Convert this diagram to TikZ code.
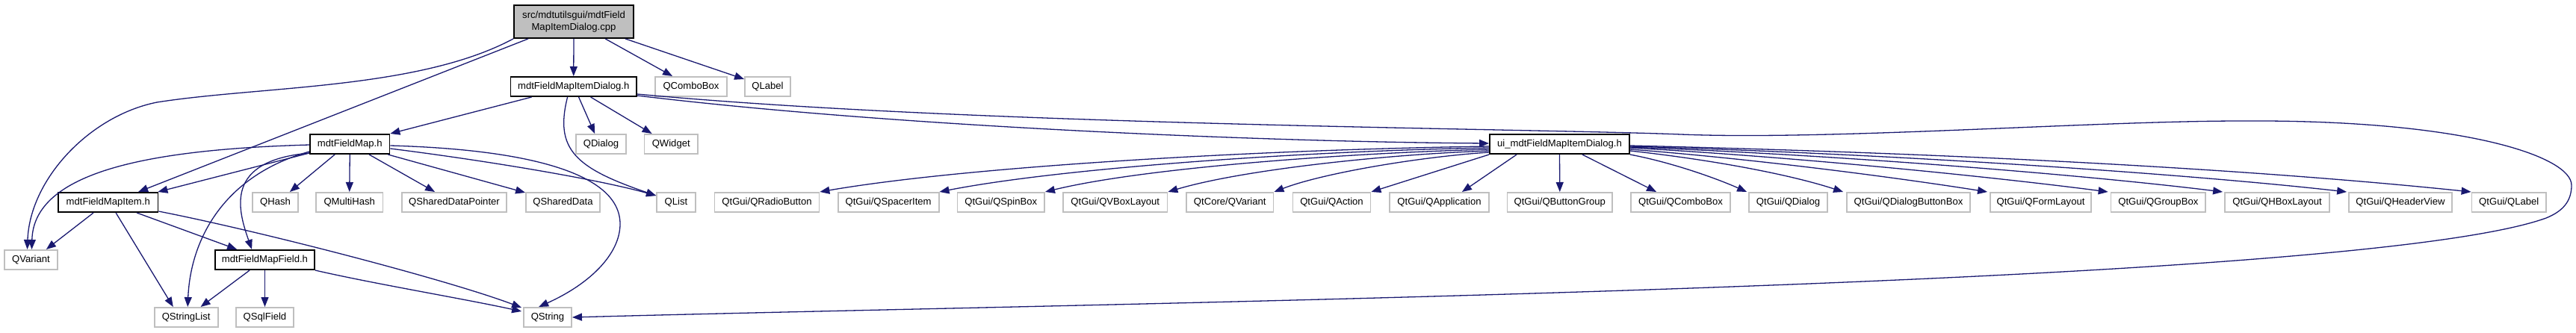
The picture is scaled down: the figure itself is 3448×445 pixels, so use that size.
\documentclass[tikz,border=0pt]{standalone}
\usepackage{fontspec}
\setmainfont{Liberation Sans}
\usetikzlibrary{arrows.meta}
\definecolor{edgecol}{HTML}{191970}
\definecolor{grey75}{HTML}{BFBFBF}
\begin{document}
\begin{tikzpicture}[x=1pt,y=-1pt,
  every node/.style={font=\fontsize{13.1}{16}\selectfont, inner sep=0pt, minimum height=26.2pt},
  proj/.style={rectangle, draw=black, line width=1.8pt, fill=white},
  ext/.style={rectangle, draw=grey75, line width=1.8pt, fill=white},
  rootbox/.style={rectangle, draw=black, line width=1.8pt, fill=grey75, align=center},
  e/.style={draw=edgecol, line width=1.3pt, -{Triangle[length=13pt,width=10pt]}}]
\useasboundingbox (0,0) rectangle (3448,445);
% row 0
\node[rootbox, minimum width=160pt, minimum height=44pt] (root) at (768,29) {src/mdtutilsgui/mdtField\\MapItemDialog.cpp};
% row 1
\node[proj, minimum width=168.5pt] (dlgh) at (767.75,116) {mdtFieldMapItemDialog.h};
\node[ext, minimum width=96pt] (qcombo) at (925,116) {QComboBox};
\node[ext, minimum width=61pt] (qlabel) at (1027.5,116) {QLabel};
% row 2
\node[proj, minimum width=106.5pt] (fmap) at (468.25,193) {mdtFieldMap.h};
\node[ext, minimum width=67pt] (qdialog) at (804.5,193) {QDialog};
\node[ext, minimum width=71.5pt] (qwidget) at (898.25,193) {QWidget};
\node[proj, minimum width=187pt] (ui) at (2087.5,193) {ui\_mdtFieldMapItemDialog.h};
% row 3
\node[proj, minimum width=133.5pt] (fitem) at (144.75,271) {mdtFieldMapItem.h};
\node[ext, minimum width=61pt] (qhash) at (368.5,271) {QHash};
\node[ext, minimum width=89.5pt] (qmhash) at (467.75,271) {QMultiHash};
\node[ext, minimum width=140pt] (qsdp) at (608,271) {QSharedDataPointer};
\node[ext, minimum width=99pt] (qsd) at (753.5,271) {QSharedData};
\node[ext, minimum width=52pt] (qlist) at (905,271) {QList};
\node[ext, minimum width=140pt] (qradio) at (1026.5,271) {QtGui/QRadioButton};
\node[ext, minimum width=135pt] (qspacer) at (1189.1,271) {QtGui/QSpacerItem};
\node[ext, minimum width=116.5pt] (qspin) at (1339.8,271) {QtGui/QSpinBox};
\node[ext, minimum width=139.5pt] (qvbox) at (1492.75,271) {QtGui/QVBoxLayout};
\node[ext, minimum width=116.5pt] (qcvar) at (1646.25,271) {QtCore/QVariant};
\node[ext, minimum width=104pt] (qaction) at (1782.5,271) {QtGui/QAction};
\node[ext, minimum width=133pt] (qapp) at (1926.5,271) {QtGui/QApplication};
\node[ext, minimum width=140.5pt] (qbgroup) at (2087.8,271) {QtGui/QButtonGroup};
\node[ext, minimum width=133pt] (qgcombo) at (2249.5,271) {QtGui/QComboBox};
\node[ext, minimum width=105pt] (qgdialog) at (2393.5,271) {QtGui/QDialog};
\node[ext, minimum width=165pt] (qgdbb) at (2554.5,271) {QtGui/QDialogButtonBox};
\node[ext, minimum width=135pt] (qgform) at (2731.5,271) {QtGui/QFormLayout};
\node[ext, minimum width=126.5pt] (qggroup) at (2888.8,271) {QtGui/QGroupBox};
\node[ext, minimum width=140pt] (qghbox) at (3048,271) {QtGui/QHBoxLayout};
\node[ext, minimum width=138pt] (qgheader) at (3213,271) {QtGui/QHeaderView};
\node[ext, minimum width=99.5pt] (qglabel) at (3358.25,271) {QtGui/QLabel};
% row 4
\node[ext, minimum width=71pt] (qvar) at (41.5,348) {QVariant};
\node[proj, minimum width=133pt] (ffield) at (354.5,348) {mdtFieldMapField.h};
% row 5
\node[ext, minimum width=85pt] (qsl) at (249.2,425) {QStringList};
\node[ext, minimum width=77pt] (qsqlf) at (354.5,425) {QSqlField};
\node[ext, minimum width=64pt] (qstring) at (733,425) {QString};
% edges from root
\draw[e] (root.south west) .. controls (560,120) and (350,115) .. (210,137) .. controls (120,155) and (40,240) .. ([xshift=-5pt]qvar.north);
\draw[e] ([xshift=20pt]root.south west) -- ([xshift=108pt]fitem.north west);
\draw[e] (root.south) -- (dlgh.north);
\draw[e] ([xshift=123pt]root.south west) -- ([xshift=24pt]qcombo.north west);
\draw[e] ([xshift=-12pt]root.south east) -- ([yshift=-4pt]qlabel.north west);
% edges from mdtFieldMapItemDialog.h
\draw[e] ([xshift=29pt]dlgh.south west) -- (fmap.north east);
\draw[e] ([xshift=77pt]dlgh.south west) .. controls (742,200) and (770,225) .. ([yshift=-5pt]qlist.north west);
\draw[e] ([xshift=92pt]dlgh.south west) -- ([xshift=26pt]qdialog.north west);
\draw[e] ([xshift=108pt]dlgh.south west) -- ([xshift=11pt]qwidget.north west);
\draw[e] ([yshift=-12pt]dlgh.east) .. controls (1200,170) and (1700,190) .. ([yshift=1pt]ui.west);
\draw[e] ([yshift=-10pt]dlgh.east) .. controls (1300,168) and (2050,172) .. (2250,180) .. controls (2450,188) and (2800,162) .. (3000,162) .. controls (3300,160) and (3442,210) .. (3442,248) .. controls (3442,270) and (3430,283) .. (3408,292) .. controls (3150,385) and (1500,405) .. (qstring.east);
% edges from mdtFieldMap.h
\draw[e] ([yshift=-1pt]fmap.west) .. controls (200,200) and (45,230) .. ([xshift=1pt]qvar.north);
\draw[e] ([yshift=2pt]fmap.south west) -- ([xshift=-1pt]fitem.north east);
\draw[e] ([yshift=4pt]fmap.south west) .. controls (300,235) and (255,320) .. ([xshift=2pt]qsl.north);
\draw[e] ([yshift=2pt]fmap.south west) .. controls (300,215) and (318,280) .. ([xshift=50pt]ffield.north west);
\draw[e] ([xshift=34pt]fmap.south west) -- ([xshift=-12pt]qhash.north east);
\draw[e] (fmap.south) -- (qmhash.north);
\draw[e] ([xshift=80pt]fmap.south west) -- ([xshift=45pt]qsdp.north west);
\draw[e] ([xshift=-3pt]fmap.south east) -- ([yshift=-1pt]qsd.north west);
\draw[e] ([yshift=-6pt]fmap.east) .. controls (650,215) and (800,240) .. ([yshift=-5pt]qlist.north west);
\draw[e] ([yshift=-2pt]fmap.east) .. controls (700,200) and (830,230) .. (830,300) .. controls (830,340) and (790,380) .. ([xshift=21pt]qstring.north west);
% edges from mdtFieldMapItem.h
\draw[e] ([xshift=48pt]fitem.south west) -- ([xshift=-16pt]qvar.north east);
\draw[e] ([xshift=78pt]fitem.south west) -- ([xshift=26pt]qsl.north west);
\draw[e] ([xshift=106pt]fitem.south west) -- ([xshift=30pt]ffield.north west);
\draw[e] ([yshift=2pt]fitem.south east) .. controls (350,310) and (600,375) .. ([xshift=-2pt,yshift=-1pt]qstring.north west);
% edges from mdtFieldMapField.h
\draw[e] ([xshift=47pt]ffield.south west) -- ([xshift=-24pt]qsl.north east);
\draw[e] (ffield.south) -- (qsqlf.north);
\draw[e] (ffield.south east) .. controls (500,380) and (620,400) .. ([xshift=-2pt,yshift=-6pt]qstring.north west);
% edges from ui_mdtFieldMapItemDialog.h
\draw[e] ([yshift=-3pt]ui.west) .. controls (1700,200) and (1300,222) .. (qradio.north east);
\draw[e] ([yshift=-5pt]ui.west) .. controls (1750,202) and (1420,225) .. (qspacer.north east);
\draw[e] ([yshift=-7pt]ui.west) .. controls (1800,205) and (1530,225) .. (qspin.north east);
\draw[e] ([yshift=-9pt]ui.west) .. controls (1850,207) and (1660,228) .. (qvbox.north east);
\draw[e] ([yshift=-11pt]ui.west) .. controls (1900,210) and (1770,232) .. (qcvar.north east);
\draw[e] (ui.south west) -- (qaction.north east);
\draw[e] ([xshift=37pt]ui.south west) -- ([xshift=-37pt]qapp.north east);
\draw[e] (ui.south) -- (qbgroup.north);
\draw[e] ([xshift=-64pt]ui.south east) -- ([xshift=35pt]qgcombo.north west);
\draw[e] (ui.south east) .. controls (2240,218) and (2300,240) .. ([xshift=-2pt]qgdialog.north west);
\draw[e] ([yshift=-9pt]ui.east) .. controls (2300,215) and (2400,235) .. ([xshift=-4pt]qgdbb.north west);
\draw[e] ([yshift=-7pt]ui.east) .. controls (2350,213) and (2540,238) .. ([xshift=-3pt]qgform.north west);
\draw[e] ([yshift=-5pt]ui.east) .. controls (2400,210) and (2660,236) .. ([xshift=-3pt]qggroup.north west);
\draw[e] ([yshift=-4pt]ui.east) .. controls (2450,207) and (2780,233) .. ([xshift=-2pt]qghbox.north west);
\draw[e] ([yshift=-3pt]ui.east) .. controls (2500,205) and (2900,230) .. ([xshift=-2pt]qgheader.north west);
\draw[e] ([yshift=-2pt]ui.east) .. controls (2600,205) and (3000,225) .. (qglabel.north west);
\end{tikzpicture}
\end{document}
